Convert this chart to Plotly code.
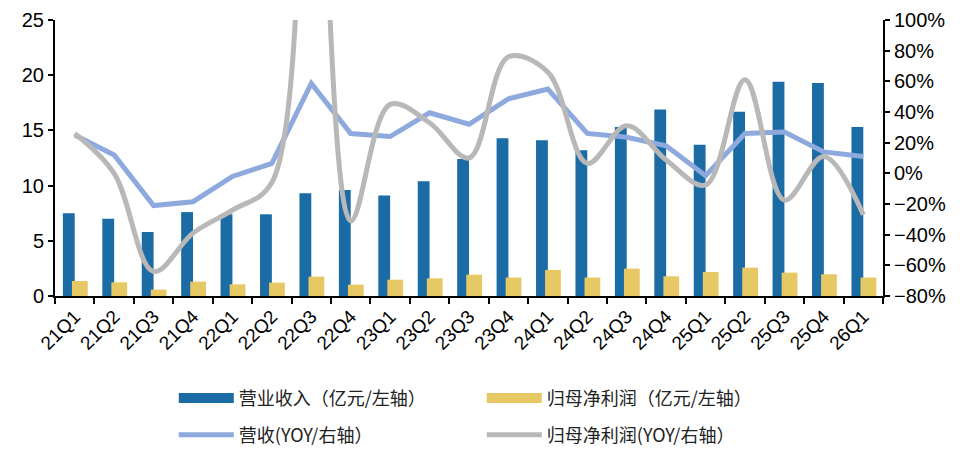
import plotly.graph_objects as go

quarters = ["21Q1", "21Q2", "21Q3", "21Q4", "22Q1", "22Q2", "22Q3", "22Q4",
            "23Q1", "23Q2", "23Q3", "23Q4", "24Q1", "24Q2", "24Q3", "24Q4",
            "25Q1", "25Q2", "25Q3", "25Q4", "26Q1"]

# 营业收入 (亿元)
revenue = [7.5, 7.0, 5.8, 7.6, 7.4, 7.4, 9.3, 9.6, 9.1, 10.4, 12.4, 14.3,
           14.1, 13.2, 15.3, 16.9, 13.7, 16.7, 19.4, 19.3, 15.3]
# 归母净利润 (亿元)
net_profit = [1.36, 1.24, 0.58, 1.3, 1.06, 1.21, 1.76, 1.03, 1.48, 1.6, 1.94,
              1.67, 2.36, 1.67, 2.48, 1.78, 2.17, 2.57, 2.12, 1.97, 1.67]
# 营收 YOY (%)
revenue_yoy = [25, 12, -21, -18.5, -2, 6.5, 58.7, 26, 24, 39.5, 32, 48.6,
               55, 26, 23.5, 18, -1.5, 26, 27, 14, 11]
# 归母净利润 YOY (%)
profit_yoy = [26, 0, -64, -39, -24, -6, 300, -31, 45, 33, 10, 76,
              66, 6.5, 31, 8.7, -7.6, 61, -17.5, 11, -27]

num_font = "Liberation Sans, Arial, sans-serif"
cjk_font = "Noto Sans CJK SC, sans-serif"

blue_bar = "#1B6BA5"
yellow_bar = "#E6C965"
blue_line = "#8EA9DE"
gray_line = "#B8B8B8"

fig = go.Figure()

fig.add_trace(go.Bar(
    x=quarters, y=revenue, name="营业收入（亿元/左轴）",
    marker=dict(color=blue_bar, line=dict(width=0)),
    width=0.3, offset=-0.3, showlegend=False,
))
fig.add_trace(go.Bar(
    x=quarters, y=net_profit, name="归母净利润（亿元/左轴）",
    marker=dict(color=yellow_bar, line=dict(width=0)),
    width=0.4, offset=-0.07, showlegend=False,
))
fig.add_trace(go.Scatter(
    x=quarters, y=revenue_yoy, name="营收(YOY/右轴）", yaxis="y2",
    mode="lines", line=dict(color=blue_line, width=5),
    legend="legend2",
))
fig.add_trace(go.Scatter(
    x=quarters, y=profit_yoy, name="归母净利润(YOY/右轴）", yaxis="y2",
    mode="lines", line=dict(color=gray_line, width=5, shape="spline", smoothing=1.0),
    legend="legend2",
))

# legend entries for the bars, drawn as wide blocks like the original
fig.add_trace(go.Scatter(
    x=[None], y=[None], name="营业收入（亿元/左轴）", mode="lines",
    line=dict(color=blue_bar, width=10), legend="legend", hoverinfo="skip",
))
fig.add_trace(go.Scatter(
    x=[None], y=[None], name="归母净利润（亿元/左轴）", mode="lines",
    line=dict(color=yellow_bar, width=10), legend="legend", hoverinfo="skip",
))

legend_common = dict(
    orientation="h", xanchor="left", yanchor="middle",
    xref="container", yref="container",
    font=dict(family=cjk_font, size=18, color="#222"),
    entrywidth=238, entrywidthmode="pixels", itemwidth=55,
    bgcolor="rgba(0,0,0,0)", traceorder="normal",
)

# page body adds 8px, so the figure is a little smaller than the window
fig.update_layout(
    width=964, height=442,
    margin=dict(l=47, r=89, t=12, b=154),
    plot_bgcolor="white", paper_bgcolor="white",
    barmode="overlay",
    showlegend=True,
    legend=dict(x=0.172, y=0.117, **legend_common),
    legend2=dict(x=0.172, y=0.034, **legend_common),
    xaxis=dict(
        type="category", tickangle=-45, showline=True, linecolor="black",
        linewidth=2, ticks="outside", tickson="boundaries", ticklen=6,
        tickcolor="black", tickwidth=2, automargin=False,
        tickfont=dict(family=num_font, size=19, color="black"),
        showgrid=False,
    ),
    yaxis=dict(
        range=[0, 25], dtick=5, showline=True, linecolor="black", linewidth=2,
        ticks="outside", ticklen=5, tickcolor="black", tickwidth=2,
        automargin=False,
        tickfont=dict(family=num_font, size=20, color="black"),
        showgrid=False, zeroline=False,
    ),
    yaxis2=dict(
        range=[-80, 100], dtick=20, ticksuffix="%", overlaying="y", side="right",
        showline=True, linecolor="black", linewidth=2,
        ticks="outside", ticklen=5, tickcolor="black", tickwidth=2,
        automargin=False,
        tickfont=dict(family=num_font, size=20, color="black"),
        showgrid=False, zeroline=False,
    ),
)

fig.write_html("out.html")
